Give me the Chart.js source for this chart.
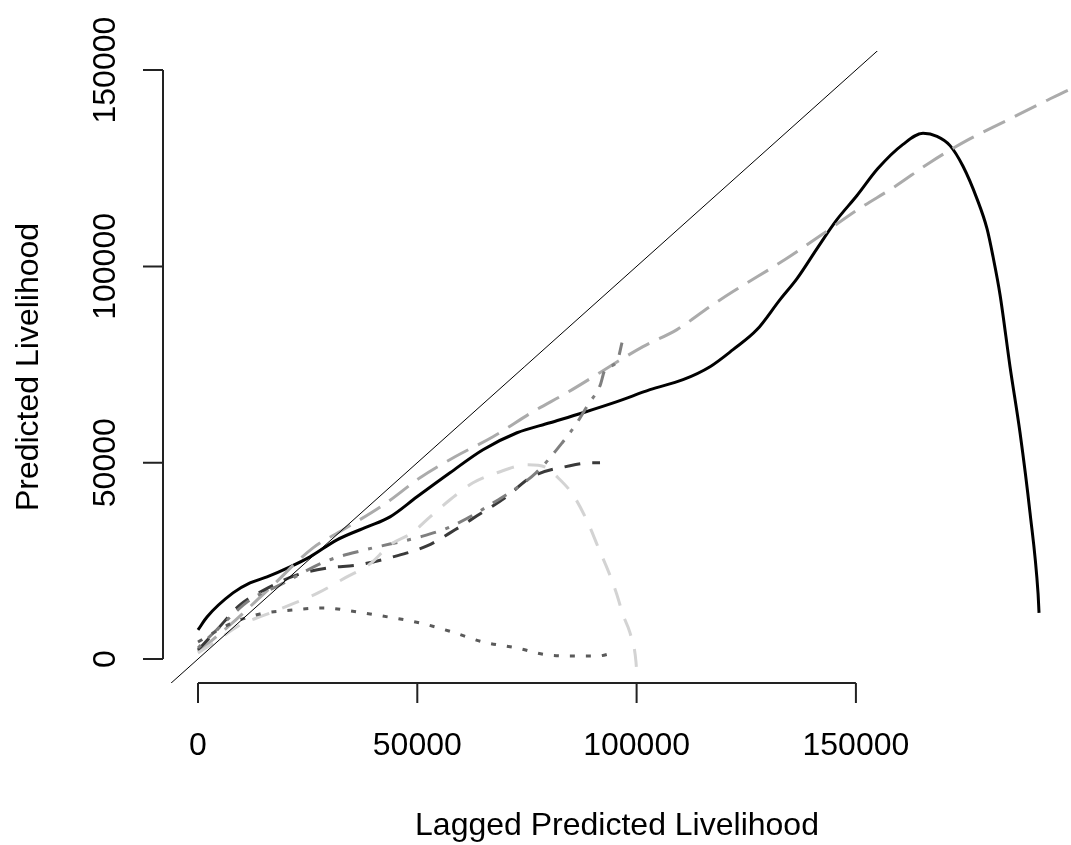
<!DOCTYPE html>
<html>
<head>
<meta charset="utf-8">
<script src="https://cdn.jsdelivr.net/npm/chart.js@4"></script>
<style>
  html, body { margin: 0; padding: 0; background: #fff; overflow: hidden; }
</style>
</head>
<body>
<canvas id="myChart" width="1071" height="845"></canvas>
<script>
// axis ticks and titles
const xTicks = [0, 50000, 100000, 150000];
const yTicks = [0, 50000, 100000, 150000];
const xTitle = 'Lagged Predicted Livelihood';
const yTitle = 'Predicted Livelihood';

// y = x reference line
const refX = [-20000, 220000];
const refY = [-20000, 220000];

// solid black curve
const solidX = [0, 2050, 7980, 11860, 15730, 20980, 25540, 31690, 38530, 43780, 49930, 57460, 64980, 72730, 80260, 87780, 95530, 103060, 110580, 116740, 121980, 127450, 132700, 136570, 141130, 145500, 150250, 155000, 160740, 165300, 168490, 171460, 174420, 177610, 179890, 181260, 182860, 185140, 187420, 189700, 191520, 191750];
const solidY = [7400, 10700, 16830, 19380, 20910, 23460, 26010, 30350, 33660, 36210, 41310, 47430, 53300, 57630, 60180, 62730, 65540, 68600, 71150, 74460, 78800, 83900, 91550, 96880, 104530, 111660, 118050, 124910, 131080, 133880, 133110, 130760, 125500, 117200, 109600, 102500, 92800, 74460, 57630, 37230, 16830, 11730];

// long dashed gray curve
const longX = [0, 7300, 16420, 26220, 33060, 42640, 50620, 58600, 67260, 76380, 84130, 101460, 109210, 116740, 121980, 133840, 142270, 150480, 158920, 166900, 175330, 184450, 193120, 198820, 203000];
const longY = [1790, 8670, 18100, 28300, 32900, 39530, 46160, 51510, 56610, 62990, 67830, 79560, 83900, 89760, 93590, 101750, 108120, 114500, 120360, 126480, 132090, 137190, 142040, 145100, 147000];

// dark dashed curve
const darkX = [0, 3880, 9580, 15960, 22570, 29640, 36480, 44460, 52210, 58600, 63610, 70000, 76150, 84820, 89830, 91660];
const darkY = [2300, 6890, 13770, 18100, 21420, 23200, 23970, 26010, 28800, 32900, 36470, 41060, 46410, 49220, 49980, 49980];

// mid gray dot-dash curve
const dotDashX = [0, 6160, 11860, 18700, 29410, 38080, 50620, 57460, 66580, 77060, 83220, 86410, 88920, 91660, 92800, 95530, 96670];
const dotDashY = [2810, 9440, 15050, 18870, 24990, 27800, 31110, 33660, 39270, 47430, 55340, 60180, 64770, 69620, 73700, 75740, 80580];

// light gray dashed curve
const lightX = [0, 3880, 9580, 15280, 22120, 27360, 33520, 39220, 43780, 48790, 52900, 57460, 62700, 68170, 75240, 79570, 81400, 85500, 88920, 91200, 93710, 95530, 96900, 98500, 99860, 100090];
const lightY = [1530, 4340, 8670, 11220, 14280, 16830, 20660, 24230, 29070, 32130, 36210, 40550, 44880, 47430, 49470, 48710, 46920, 41820, 34680, 28560, 21930, 16320, 11220, 6630, -770, -4850];

// dotted curve
const dottedX = [0, 7300, 14140, 21660, 28500, 36250, 43320, 50620, 57910, 64980, 72730, 79800, 87550, 91200, 94620];
const dottedY = [4340, 8930, 11480, 12500, 13010, 11990, 10710, 9180, 6890, 4340, 2810, 1020, 770, 770, 1530];

function pts(xs, ys) {
    return xs.map((x, i) => ({ x: x, y: ys[i] }));
}

function line(xs, ys, color, width, dash) {
    return {
        data: pts(xs, ys),
        borderColor: color,
        borderWidth: width,
        borderDash: dash,
        showLine: true,
        pointRadius: 0,
        cubicInterpolationMode: 'monotone',
        fill: false
    };
}

const FONT = '32px "Liberation Sans", Arial, sans-serif';

// base-R style axes: line only over the tick range, ticks outside
const rAxes = {
    id: 'rAxes',
    afterDraw(chart) {
        const c = chart.ctx;
        const xs = chart.scales.x;
        const ys = chart.scales.y;
        const area = chart.chartArea;
        c.save();
        c.strokeStyle = '#222';
        c.fillStyle = '#000';
        c.lineWidth = 2;
        c.font = FONT;

        // x axis
        const xl = xs.getPixelForValue(xTicks[0]);
        const xr = xs.getPixelForValue(xTicks[xTicks.length - 1]);
        const yb = area.bottom;
        c.beginPath();
        c.moveTo(xl, yb);
        c.lineTo(xr, yb);
        xTicks.forEach(t => {
            const p = xs.getPixelForValue(t);
            c.moveTo(p, yb);
            c.lineTo(p, yb + 20);
        });
        c.stroke();
        c.textAlign = 'center';
        c.textBaseline = 'alphabetic';
        xTicks.forEach(t => {
            c.fillText(String(t), xs.getPixelForValue(t), 755);
        });
        c.fillText(xTitle, (area.left + area.right) / 2, 835);

        // y axis
        const yt = ys.getPixelForValue(yTicks[yTicks.length - 1]);
        const y0 = ys.getPixelForValue(yTicks[0]);
        const xa = area.left;
        c.beginPath();
        c.moveTo(xa, y0);
        c.lineTo(xa, yt);
        yTicks.forEach(t => {
            const p = ys.getPixelForValue(t);
            c.moveTo(xa, p);
            c.lineTo(xa - 20, p);
        });
        c.stroke();
        yTicks.forEach(t => {
            c.save();
            c.translate(115, ys.getPixelForValue(t));
            c.rotate(-Math.PI / 2);
            c.fillText(String(t), 0, 0);
            c.restore();
        });
        c.save();
        c.translate(38, (area.top + area.bottom) / 2);
        c.rotate(-Math.PI / 2);
        c.fillText(yTitle, 0, 0);
        c.restore();

        c.restore();
    }
};

const whiteBg = {
    id: 'whiteBg',
    beforeDraw(chart) {
        const c = chart.ctx;
        c.save();
        c.fillStyle = '#fff';
        c.fillRect(0, 0, chart.width, chart.height);
        c.restore();
    }
};

const ctx = document.getElementById('myChart').getContext('2d');

const myChart = new Chart(ctx, {
    type: 'scatter',
    data: {
        datasets: [
            line(refX, refY, '#000', 1, []),
            line(dottedX, dottedY, '#5a5a5a', 3, [5, 11]),
            line(lightX, lightY, '#d3d3d3', 3, [18, 14]),
            line(dotDashX, dotDashY, '#7f7f7f', 3, [4, 10, 16, 10]),
            line(darkX, darkY, '#3a3a3a', 3, [16, 12]),
            line(longX, longY, '#ababab', 3, [24, 11]),
            line(solidX, solidY, '#000', 3, [])
        ]
    },
    options: {
        responsive: false,
        animation: false,
        layout: {
            padding: { left: 163, top: 51, right: 0, bottom: 162 }
        },
        plugins: {
            legend: { display: false },
            tooltip: { enabled: false }
        },
        scales: {
            x: { type: 'linear', min: -7980, max: 199040, display: false },
            y: { type: 'linear', min: -6113, max: 154860, display: false }
        }
    },
    plugins: [whiteBg, rAxes]
});
</script>
</body>
</html>
